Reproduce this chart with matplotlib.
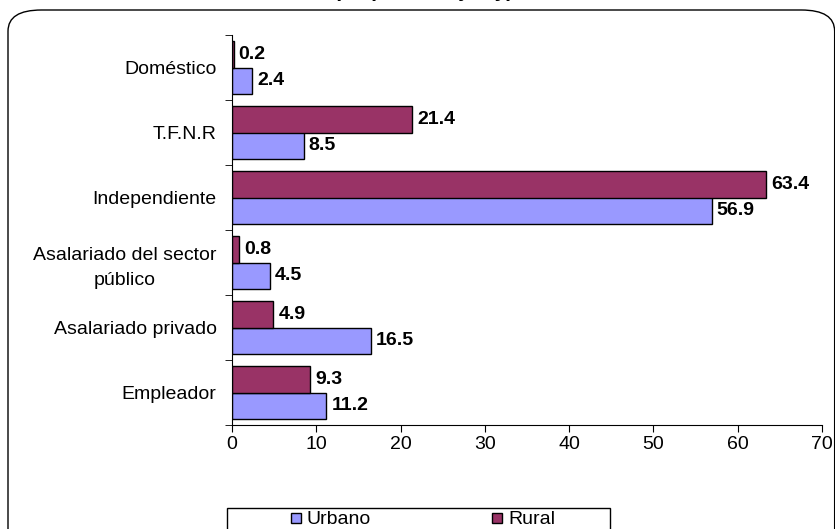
import numpy as np
import matplotlib
matplotlib.use("Agg")
import matplotlib.pyplot as plt
from matplotlib.patches import FancyBboxPatch, Rectangle

plt.rcParams['font.family'] = ['Liberation Sans', 'DejaVu Sans']

categories = ["Empleador", "Asalariado privado", "Asalariado del sector\npúblico",
              "Independiente", "T.F.N.R", "Doméstico"]
urbano = [11.2, 16.5, 4.5, 56.9, 8.5, 2.4]
rural = [9.3, 4.9, 0.8, 63.4, 21.4, 0.2]
c_urbano = "#9999FF"
c_rural = "#993366"

W, H = 835, 529
fig = plt.figure(figsize=(W / 100, H / 100), dpi=100)

# rounded outer frame (runs off the right and bottom edges)
frame = FancyBboxPatch((8 / W, -0.1), 0.99, (H - 10) / H + 0.1,
                       boxstyle="round,pad=0,rounding_size=0.04",
                       transform=fig.transFigure, fc="none", ec="black", lw=1.0,
                       clip_on=False)
fig.patches.append(frame)

# clipped title (only its lower part is visible)
fig.text(424 / W, 1 + 3 / H, "(en porcentajes y)", ha="center", va="baseline",
         fontsize=15, fontweight="bold")

ax = fig.add_axes([232 / W, 1 - 425 / H, 590 / W, 390 / H])
y = np.arange(len(categories))
h = 0.41
ax.barh(y - h / 2, urbano, height=h, color=c_urbano, edgecolor="black", lw=1)
ax.barh(y + h / 2, rural, height=h, color=c_rural, edgecolor="black", lw=1)

for yi, u, r in zip(y, urbano, rural):
    ax.text(u + 0.6, yi - h / 2, f"{u:.1f}", va="center", ha="left",
            fontsize=14, fontweight="bold")
    ax.text(r + 0.6, yi + h / 2, f"{r:.1f}", va="center", ha="left",
            fontsize=14, fontweight="bold")

ax.set_xlim(0, 70)
ax.set_ylim(-0.5, len(categories) - 0.5)
ax.set_xticks(range(0, 71, 10))
ax.set_yticks(y)
ax.set_yticklabels(categories, ha="right", multialignment="center",
                   linespacing=1.55)
ax.set_yticks(np.arange(-0.5, len(categories), 1), minor=True)
ax.tick_params(axis="y", which="major", length=0, pad=11, labelsize=14)
ax.tick_params(axis="y", which="minor", length=5, direction="out")
ax.tick_params(axis="x", length=5, direction="out", labelsize=14, pad=3)
ax.spines["top"].set_visible(False)
ax.spines["right"].set_visible(False)

# legend box running off the bottom edge
fig.patches.append(Rectangle((227 / W, -0.05), 383 / W, (H - 508) / H + 0.05,
                             transform=fig.transFigure, fc="white", ec="black",
                             lw=1, clip_on=False))
for x0, col, lab in [(291, c_urbano, "Urbano"), (492, c_rural, "Rural")]:
    fig.patches.append(Rectangle((x0 / W, 1 - 523 / H), 10 / W, 10 / H,
                                 transform=fig.transFigure, fc=col, ec="black", lw=1))
    fig.text((x0 + 16) / W, 1 - 519 / H, lab, va="center", ha="left", fontsize=14)

fig.savefig("out.png", dpi=100)
